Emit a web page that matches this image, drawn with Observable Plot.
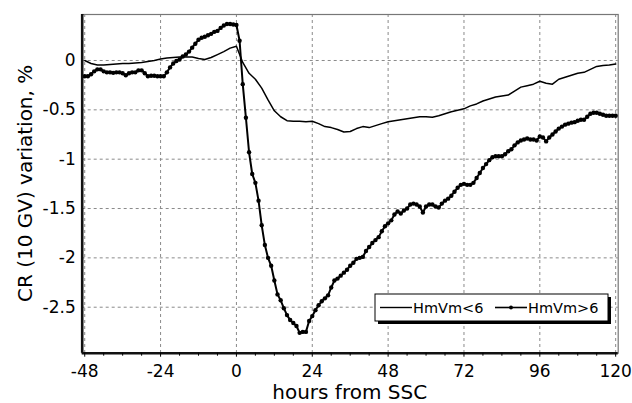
<!DOCTYPE html>
<html><head><meta charset="utf-8">
<script src="https://cdn.jsdelivr.net/npm/d3@7"></script>
<script src="https://cdn.jsdelivr.net/npm/@observablehq/plot@0.6"></script>
<style>
body{margin:0;background:#fff}
#chart{position:relative;width:632px;height:403px}
</style>
</head><body><div id="chart"></div>
<script>
// x sample times (hours from SSC)
const hoursHigh = d3.range(-48, 121, 1);
const hoursLow = d3.range(-48, 121, 2);

// HmVm>6 (hourly)
const valuesHigh = [
  -0.16, -0.16, -0.14, -0.11, -0.09, -0.09, -0.11, -0.12, -0.12, -0.125, -0.12, -0.12,
  -0.13, -0.15, -0.13, -0.12, -0.12, -0.10, -0.10, -0.13, -0.16, -0.155, -0.155, -0.16,
  -0.16, -0.16, -0.12, -0.07, -0.03, -0.005, 0.01, 0.04, 0.06, 0.09, 0.13, 0.17,
  0.21, 0.23, 0.24, 0.255, 0.27, 0.29, 0.30, 0.33, 0.355, 0.37, 0.37, 0.365,
  0.36, 0.20, -0.24, -0.58, -0.93, -1.15, -1.24, -1.42, -1.67, -1.87, -2.00, -2.08,
  -2.23, -2.37, -2.43, -2.51, -2.58, -2.63, -2.66, -2.69, -2.76, -2.75, -2.75, -2.64,
  -2.59, -2.53, -2.48, -2.44, -2.41, -2.38, -2.30, -2.23, -2.21, -2.18, -2.15, -2.12,
  -2.08, -2.05, -2.01, -2.00, -1.99, -1.93, -1.89, -1.85, -1.82, -1.79, -1.73, -1.68,
  -1.65, -1.62, -1.56, -1.53, -1.55, -1.52, -1.50, -1.46, -1.45, -1.46, -1.48, -1.54,
  -1.48, -1.46, -1.46, -1.48, -1.49, -1.45, -1.42, -1.40, -1.37, -1.33, -1.29, -1.26,
  -1.25, -1.26, -1.26, -1.24, -1.19, -1.14, -1.09, -1.05, -1.01, -0.98, -0.97, -0.97,
  -0.97, -0.95, -0.92, -0.90, -0.86, -0.83, -0.81, -0.80, -0.79, -0.80, -0.80, -0.81,
  -0.77, -0.78, -0.82, -0.78, -0.75, -0.72, -0.69, -0.67, -0.65, -0.64, -0.63, -0.625,
  -0.61, -0.60, -0.60, -0.57, -0.54, -0.53, -0.53, -0.54, -0.55, -0.56, -0.56, -0.56,
  -0.56
];

// HmVm<6 (every 2 h)
const valuesLow = [
  0.0, -0.03, -0.045, -0.045, -0.04, -0.035, -0.03, -0.03, -0.025, -0.02, -0.01, 0.0,
  0.015, 0.025, 0.03, 0.035, 0.035, 0.035, 0.02, 0.01, 0.03, 0.06, 0.09, 0.125,
  0.145, -0.02, -0.13, -0.19, -0.28, -0.40, -0.51, -0.57, -0.61, -0.615, -0.615, -0.62,
  -0.615, -0.64, -0.67, -0.68, -0.70, -0.725, -0.72, -0.69, -0.67, -0.68, -0.66, -0.64,
  -0.62, -0.61, -0.60, -0.59, -0.58, -0.57, -0.57, -0.575, -0.56, -0.54, -0.52, -0.505,
  -0.49, -0.46, -0.44, -0.41, -0.39, -0.37, -0.36, -0.35, -0.31, -0.27, -0.255, -0.24,
  -0.21, -0.23, -0.24, -0.19, -0.17, -0.15, -0.13, -0.12, -0.09, -0.06, -0.05, -0.045,
  -0.035
];

const seriesNames = ["HmVm<6", "HmVm>6"];
const xTicks = [-48, -24, 0, 24, 48, 72, 96, 120];
const xMinorTicks = d3.range(-48, 121, 6).filter(d => d % 24 !== 0);
const yTicks = [0, -0.5, -1, -1.5, -2, -2.5];
const xTitle = "hours from SSC";
const yTitle = "CR (10 GV) variation, %";

const high = hoursHigh.map((h, i) => ({h, v: valuesHigh[i]}));
const low = hoursLow.map((h, i) => ({h, v: valuesLow[i]}));

const xDomain = [-48.8, 120.8];
const yDomain = [-2.966, 0.466];

const chart = Plot.plot({
  width: 632, height: 403,
  marginLeft: 81.7, marginRight: 14.3, marginTop: 14, marginBottom: 50.3,
  style: {fontFamily: "DejaVu Sans", fontSize: "17px", color: "#000", background: "#fff", overflow: "visible"},
  x: {domain: xDomain, label: null},
  y: {domain: yDomain, label: null},
  marks: [
    Plot.gridX(xTicks, {stroke: "#8a8a8a", strokeOpacity: 1, strokeWidth: 1, strokeDasharray: "3,3"}),
    Plot.gridY(yTicks, {stroke: "#8a8a8a", strokeOpacity: 1, strokeWidth: 1, strokeDasharray: "3,3"}),
    Plot.frame({stroke: "#777", strokeWidth: 1.2}),
    Plot.line(low, {x: "h", y: "v", stroke: "#000", strokeWidth: 1.5}),
    Plot.line(high, {x: "h", y: "v", stroke: "#000", strokeWidth: 2}),
    Plot.dot(high, {x: "h", y: "v", r: 2.2, fill: "#000", stroke: "none"}),
    Plot.ruleX([xDomain[0]], {stroke: "#111", strokeWidth: 2.6}),
    Plot.ruleY([yDomain[0]], {stroke: "#111", strokeWidth: 2.6}),
    Plot.axisX(xTicks, {tickSize: 4, tickPadding: 8, tickFormat: d => String(d), fontSize: 17, label: null}),
    Plot.axisX(xMinorTicks, {tickSize: 3, tickFormat: () => "", label: null}),
    Plot.axisY(yTicks, {tickSize: 0, tickPadding: 6.5, tickFormat: d => String(d), fontSize: 17, label: null})
  ]
});
document.getElementById("chart").appendChild(chart);

const svg = d3.select(chart);
svg.append("text")
  .attr("x", 349.7).attr("y", 399)
  .attr("text-anchor", "middle")
  .attr("font-family", "DejaVu Sans").attr("font-size", 20)
  .attr("fill", "#000")
  .text(xTitle);
svg.append("text")
  .attr("transform", "translate(31.5,183.4) rotate(-90)")
  .attr("text-anchor", "middle")
  .attr("font-family", "DejaVu Sans").attr("font-size", 20)
  .attr("fill", "#000")
  .text(yTitle);

// legend
const lg = svg.append("g").attr("text-anchor", "start");
lg.append("rect").attr("x", 378).attr("y", 297).attr("width", 233).attr("height", 27).attr("fill", "#000");
lg.append("rect").attr("x", 375).attr("y", 294).attr("width", 233).attr("height", 27)
  .attr("fill", "#fff").attr("stroke", "#000").attr("stroke-width", 1);
lg.append("line").attr("x1", 380).attr("x2", 412).attr("y1", 307.5).attr("y2", 307.5)
  .attr("stroke", "#000").attr("stroke-width", 1.4);
lg.append("text").attr("x", 413).attr("y", 313).attr("text-anchor", "start")
  .attr("font-family", "DejaVu Sans").attr("font-size", 14.5)
  .attr("fill", "#000").text(seriesNames[0]);
lg.append("line").attr("x1", 495).attr("x2", 527).attr("y1", 307.5).attr("y2", 307.5)
  .attr("stroke", "#000").attr("stroke-width", 1.6);
lg.append("circle").attr("cx", 511).attr("cy", 307.5).attr("r", 1.9).attr("fill", "#000");
lg.append("text").attr("x", 528).attr("y", 313).attr("text-anchor", "start")
  .attr("font-family", "DejaVu Sans").attr("font-size", 14.5)
  .attr("fill", "#000").text(seriesNames[1]);
</script>
</body></html>
